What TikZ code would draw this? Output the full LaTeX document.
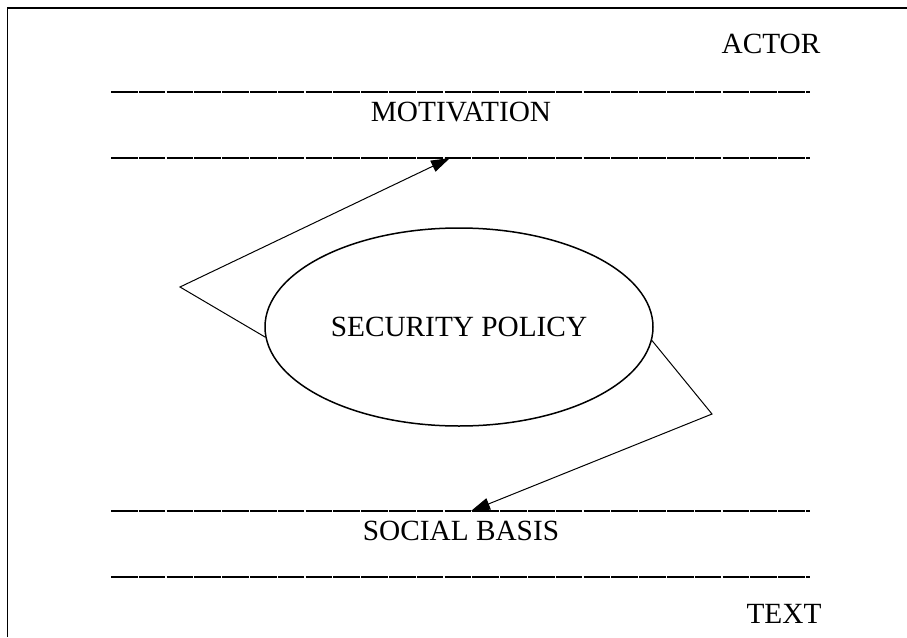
\documentclass[tikz,border=0pt]{standalone}
\usepackage{fontspec}
\setmainfont{Liberation Serif}
\usetikzlibrary{arrows.meta,shapes.geometric}
\tikzset{
  lbl/.style={font=\fontsize{29.3}{32}\selectfont, inner sep=0pt},
  divider/.style={line width=2pt, dash pattern=on 26.5pt off 1.3pt},
  conn/.style={line width=1pt},
  arr/.style={conn, -{Triangle[length=19pt,width=12pt]}},
}
\begin{document}
\begin{tikzpicture}[x=1pt,y=-1pt]
\useasboundingbox (0,0) rectangle (907,637);
\fill[white] (0,0) rectangle (907,637);
% frame
\coordinate (fbl) at (7.5,637);
\coordinate (ftl) at (7.5,8);
\coordinate (ftr) at (907,8);
\draw[line width=1.2pt] (fbl) -- (ftl) -- (ftr);
% dividers
\coordinate (d1a) at (111,92);  \coordinate (d1b) at (810,92);
\coordinate (d2a) at (111,158); \coordinate (d2b) at (810,158);
\coordinate (d3a) at (111,511); \coordinate (d3b) at (810,511);
\coordinate (d4a) at (111,577); \coordinate (d4b) at (810,577);
\draw[divider] (d1a) -- (d1b);
\draw[divider] (d2a) -- (d2b);
\draw[divider] (d3a) -- (d3b);
\draw[divider] (d4a) -- (d4b);
% labels
\node[lbl] (actor) at (771,44) {ACTOR};
\node[lbl] (motiv) at (461,112) {MOTIVATION};
\node[lbl] (social) at (461,531) {SOCIAL BASIS};
\node[lbl] (text) at (784,614) {TEXT};
% ellipse
\node[ellipse, draw, line width=1.5pt, minimum width=388pt, minimum height=198pt, inner sep=0pt, font=\fontsize{29.3}{32}\selectfont] (sp) at (459,327) {SECURITY POLICY};
% connectors
\coordinate (bendL) at (180,287);
\coordinate (tipU) at (450,158);
\coordinate (bendR) at (712,414);
\coordinate (tipD) at (471,511);
\draw[arr] (sp.183) -- (bendL) -- (tipU);
\draw[arr] (sp.356) -- (bendR) -- (tipD);
\end{tikzpicture}
\end{document}
